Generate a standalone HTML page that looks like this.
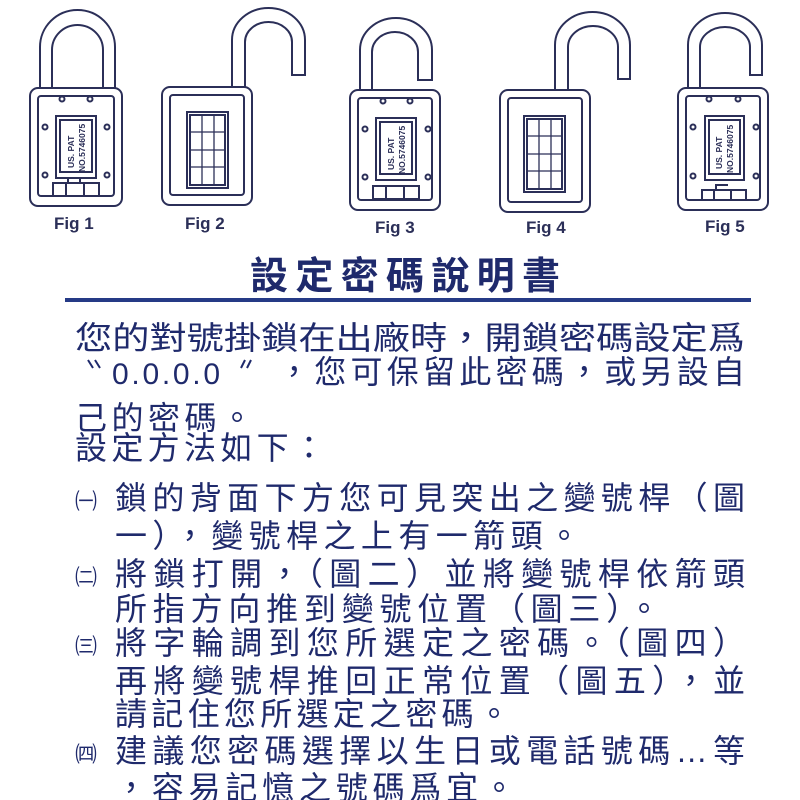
<!DOCTYPE html>
<html><head><meta charset="utf-8"><style>
html,body{margin:0;padding:0;background:#fff;width:800px;height:800px;overflow:hidden}
svg{display:block}
.s{fill:none;stroke:#2b2f58;stroke-width:2}
.t{font-family:"Liberation Sans","Noto Sans CJK TC",sans-serif;fill:#1f2a6c;font-size:32px}
.f{font-family:"Liberation Sans",sans-serif;font-weight:bold;font-size:17px;fill:#2b2f58}
.p{font-family:"Liberation Sans",sans-serif;font-weight:bold;font-size:8.5px;fill:#2b2f58}
</style></head><body>
<svg width="800" height="800" viewBox="0 0 800 800" xmlns="http://www.w3.org/2000/svg">
<!-- Fig1 -->
<path class="s" d="M40,88 V47 A37.5,37 0 0 1 115,47 V88 M52,88 V50 A25.5,25 0 0 1 103,50 V88"/>
<rect class="s" x="30" y="88" width="92" height="118" rx="8"/>
<rect class="s" x="38" y="96" width="76" height="100" rx="3"/>
<rect class="s" x="56" y="116" width="40" height="62"/><rect class="s" x="60" y="120" width="32" height="52"/>
<text class="p" transform="translate(74,168) rotate(-90)">US. PAT</text>
<text class="p" transform="translate(85,172) rotate(-90)">NO.5746075</text>
<g class="s"><circle cx="62" cy="99" r="2.5"/><circle cx="90" cy="99" r="2.5"/><circle cx="45" cy="127" r="2.5"/><circle cx="107" cy="127" r="2.5"/><circle cx="45" cy="175" r="2.5"/><circle cx="107" cy="175" r="2.5"/>
<rect x="53" y="183" width="46" height="13"/><path d="M66,183V196M84,183V196M68,183V178H80V183"/></g>
<text class="f" x="54" y="229">Fig 1</text>
<!-- Fig2 -->
<path class="s" d="M232,87 V40 A36.5,32 0 0 1 305,40 V75 H292 V42 A23.5,20 0 0 0 245,42 V87"/>
<rect class="s" x="162" y="87" width="90" height="118" rx="8"/>
<rect class="s" x="170" y="95" width="74" height="100" rx="3"/>
<rect class="s" x="187" y="112" width="41" height="76"/><rect class="s" x="190" y="115" width="35" height="70"/>
<g class="s" style="stroke-width:1.3"><path d="M190,132H225M190,150H225M190,167H225M202,115V185M214,115V185"/></g>
<text class="f" x="185" y="229">Fig 2</text>
<!-- Fig3 -->
<path class="s" d="M360,90 V50 A36,32 0 0 1 432,50 V80 H418 V52 A23,20 0 0 0 372,52 V90"/>
<rect class="s" x="350" y="90" width="90" height="120" rx="8"/>
<rect class="s" x="358" y="98" width="74" height="102" rx="3"/>
<rect class="s" x="376" y="118" width="40" height="62"/><rect class="s" x="380" y="122" width="32" height="52"/>
<text class="p" transform="translate(394,170) rotate(-90)">US. PAT</text>
<text class="p" transform="translate(405,174) rotate(-90)">NO.5746075</text>
<g class="s"><circle cx="383" cy="101" r="2.5"/><circle cx="410" cy="101" r="2.5"/><circle cx="365" cy="129" r="2.5"/><circle cx="428" cy="129" r="2.5"/><circle cx="365" cy="177" r="2.5"/><circle cx="428" cy="177" r="2.5"/>
<rect x="373" y="186" width="46" height="13"/><path d="M386,186V199M404,186V199"/></g>
<text class="f" x="375" y="233">Fig 3</text>
<!-- Fig4 -->
<path class="s" d="M555,90 V45 A37.5,33 0 0 1 630,45 V79 H618 V47 A25,21 0 0 0 568,47 V90"/>
<rect class="s" x="500" y="90" width="90" height="122" rx="8"/>
<rect class="s" x="508" y="98" width="74" height="104" rx="3"/>
<rect class="s" x="524" y="116" width="41" height="76"/><rect class="s" x="527" y="119" width="35" height="70"/>
<g class="s" style="stroke-width:1.3"><path d="M527,136H562M527,154H562M527,171H562M539,119V189M551,119V189"/></g>
<text class="f" x="526" y="233">Fig 4</text>
<!-- Fig5 -->
<path class="s" d="M688,88 V45 A37,32 0 0 1 762,45 V75 H750 V47 A25,20 0 0 0 700,47 V88"/>
<rect class="s" x="678" y="88" width="90" height="122" rx="8"/>
<rect class="s" x="686" y="96" width="74" height="104" rx="3"/>
<rect class="s" x="705" y="116" width="39" height="64"/><rect class="s" x="709" y="120" width="31" height="54"/>
<text class="p" transform="translate(722,169) rotate(-90)">US. PAT</text>
<text class="p" transform="translate(733,173) rotate(-90)">NO.5746075</text>
<g class="s"><circle cx="709" cy="99" r="2.5"/><circle cx="738" cy="99" r="2.5"/><circle cx="693" cy="127" r="2.5"/><circle cx="756" cy="127" r="2.5"/><circle cx="693" cy="176" r="2.5"/><circle cx="756" cy="176" r="2.5"/>
<rect x="702" y="190" width="44" height="10"/><path d="M714,190V200M731,190V200M716,190V185H728"/></g>
<text class="f" x="705" y="232">Fig 5</text>
<!-- Title -->
<text class="t" x="250" y="289" style="font-size:38px;font-weight:bold" textLength="310" lengthAdjust="spacing">設定密碼說明書</text>
<rect x="65" y="298" width="686" height="4" fill="#253a86"/>
<!-- Body -->
<text class="t" x="75" y="349" textLength="670" lengthAdjust="spacingAndGlyphs">您的對號掛鎖在出廠時，開鎖密碼設定爲</text>
<g stroke="#1f2a6c" stroke-width="2" fill="none"><path d="M88,360 L93,368 M95,360 L100,368 M241,368 L245,360 M247,368 L251,360"/></g>
<text x="112" y="384" style="font-family:'Liberation Sans',sans-serif;font-size:30px;fill:#1f2a6c" textLength="108" lengthAdjust="spacing">0.0.0.0</text>
<text class="t" x="278" y="383" textLength="467" lengthAdjust="spacing">，您可保留此密碼，或另設自</text>
<text class="t" x="75" y="429" textLength="178" lengthAdjust="spacing">己的密碼。</text>
<text class="t" x="75" y="459" textLength="250" lengthAdjust="spacing">設定方法如下：</text>
<text class="t" x="75" y="509" style="font-size:22px">㈠</text>
<text class="t" x="115" y="509" textLength="630" lengthAdjust="spacing">鎖的背面下方您可見突出之變號桿（圖</text>
<text class="t" x="115" y="547" textLength="465" lengthAdjust="spacing">一），變號桿之上有一箭頭。</text>
<text class="t" x="75" y="585" style="font-size:22px">㈡</text>
<text class="t" x="115" y="585" textLength="630" lengthAdjust="spacing">將鎖打開，（圖二）並將變號桿依箭頭</text>
<text class="t" x="115" y="620" textLength="545" lengthAdjust="spacing">所指方向推到變號位置（圖三）。</text>
<text class="t" x="75" y="654" style="font-size:22px">㈢</text>
<text class="t" x="115" y="654" textLength="630" lengthAdjust="spacing">將字輪調到您所選定之密碼。（圖四）</text>
<text class="t" x="115" y="692" textLength="630" lengthAdjust="spacing">再將變號桿推回正常位置（圖五），並</text>
<text class="t" x="115" y="725" textLength="395" lengthAdjust="spacing">請記住您所選定之密碼。</text>
<text class="t" x="75" y="762" style="font-size:22px">㈣</text>
<text class="t" x="115" y="762" textLength="630" lengthAdjust="spacing">建議您密碼選擇以生日或電話號碼…等</text>
<text class="t" x="115" y="799" textLength="400" lengthAdjust="spacing">，容易記憶之號碼爲宜。</text>
</svg>
</body></html>
